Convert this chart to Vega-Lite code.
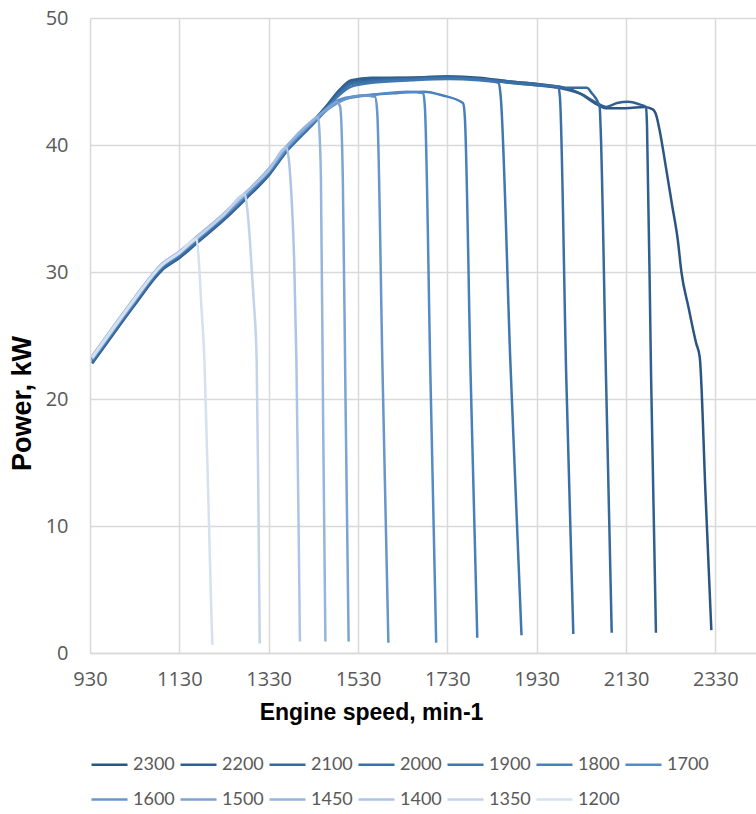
{
  "$schema": "https://vega.github.io/schema/vega-lite/v6.json",
  "width": 666,
  "height": 635,
  "autosize": {"type": "none"},
  "padding": {"left": 90, "top": 18, "right": 0, "bottom": 161},
  "background": "white",
  "config": {
    "view": {"stroke": null},
    "axis": {"gridColor": "#D9D9D9", "gridWidth": 1.5, "ticks": false, "labelColor": "#595959", "labelFont": "Open Sans", "labelFontSize": 20, "titleFont": "Liberation Sans", "titleFontWeight": "bold", "titleColor": "#000000", "format": "d"}
  },
  "data": {"values": [
    {"series":"2300","speed":935,"power":22.8},{"series":"2300","speed":980,"power":25.0},{"series":"2300","speed":1030,"power":27.4},{"series":"2300","speed":1090,"power":30.1},{"series":"2300","speed":1130,"power":31.1},{"series":"2300","speed":1170,"power":32.3},{"series":"2300","speed":1230,"power":34.1},{"series":"2300","speed":1280,"power":35.8},{"series":"2300","speed":1330,"power":37.6},{"series":"2300","speed":1370,"power":39.5},{"series":"2300","speed":1420,"power":41.4},{"series":"2300","speed":1460,"power":43.0},{"series":"2300","speed":1490,"power":44.3},{"series":"2300","speed":1515,"power":45.0},{"series":"2300","speed":1560,"power":45.2},{"series":"2300","speed":1650,"power":45.3},{"series":"2300","speed":1730,"power":45.4},{"series":"2300","speed":1800,"power":45.3},{"series":"2300","speed":1870,"power":45.0},{"series":"2300","speed":1930,"power":44.8},{"series":"2300","speed":1980,"power":44.6},{"series":"2300","speed":2030,"power":44.0},{"series":"2300","speed":2060,"power":43.3},{"series":"2300","speed":2085,"power":42.9},{"series":"2300","speed":2130,"power":42.9},{"series":"2300","speed":2171,"power":43.0},{"series":"2300","speed":2190,"power":42.8},{"series":"2300","speed":2198,"power":42.3},{"series":"2300","speed":2205,"power":41.2},{"series":"2300","speed":2220,"power":38.1},{"series":"2300","speed":2233,"power":35.3},{"series":"2300","speed":2246,"power":32.5},{"series":"2300","speed":2254,"power":30.0},{"series":"2300","speed":2270,"power":27.2},{"series":"2300","speed":2287,"power":24.4},{"series":"2300","speed":2295,"power":23.3},{"series":"2300","speed":2308,"power":12.5},{"series":"2300","speed":2321,"power":1.8},

    {"series":"2200","speed":935,"power":23.0},{"series":"2200","speed":980,"power":25.2},{"series":"2200","speed":1030,"power":27.5},{"series":"2200","speed":1090,"power":30.2},{"series":"2200","speed":1130,"power":31.3},{"series":"2200","speed":1170,"power":32.4},{"series":"2200","speed":1230,"power":34.2},{"series":"2200","speed":1280,"power":35.9},{"series":"2200","speed":1330,"power":37.7},{"series":"2200","speed":1370,"power":39.6},{"series":"2200","speed":1420,"power":41.5},{"series":"2200","speed":1460,"power":43.1},{"series":"2200","speed":1490,"power":44.4},{"series":"2200","speed":1515,"power":45.1},{"series":"2200","speed":1560,"power":45.3},{"series":"2200","speed":1650,"power":45.3},{"series":"2200","speed":1730,"power":45.4},{"series":"2200","speed":1800,"power":45.2},{"series":"2200","speed":1870,"power":44.9},{"series":"2200","speed":1930,"power":44.7},{"series":"2200","speed":1980,"power":44.5},{"series":"2200","speed":2030,"power":44.0},{"series":"2200","speed":2060,"power":43.4},{"series":"2200","speed":2085,"power":43.0},{"series":"2200","speed":2110,"power":43.3},{"series":"2200","speed":2135,"power":43.4},{"series":"2200","speed":2160,"power":43.2},{"series":"2200","speed":2175,"power":43.0},{"series":"2200","speed":2177,"power":41.5},{"series":"2200","speed":2186,"power":22.0},{"series":"2200","speed":2197,"power":1.6},

    {"series":"2100","speed":935,"power":23.1},{"series":"2100","speed":980,"power":25.3},{"series":"2100","speed":1030,"power":27.6},{"series":"2100","speed":1090,"power":30.3},{"series":"2100","speed":1130,"power":31.3},{"series":"2100","speed":1170,"power":32.5},{"series":"2100","speed":1230,"power":34.3},{"series":"2100","speed":1280,"power":36.0},{"series":"2100","speed":1330,"power":37.8},{"series":"2100","speed":1370,"power":39.6},{"series":"2100","speed":1420,"power":41.4},{"series":"2100","speed":1460,"power":42.9},{"series":"2100","speed":1490,"power":44.2},{"series":"2100","speed":1515,"power":44.9},{"series":"2100","speed":1560,"power":45.1},{"series":"2100","speed":1650,"power":45.2},{"series":"2100","speed":1730,"power":45.3},{"series":"2100","speed":1800,"power":45.2},{"series":"2100","speed":1870,"power":45.0},{"series":"2100","speed":1930,"power":44.8},{"series":"2100","speed":1997,"power":44.5},{"series":"2100","speed":2042,"power":44.5},{"series":"2100","speed":2053,"power":44.1},{"series":"2100","speed":2071,"power":43.0},{"series":"2100","speed":2073,"power":41.5},{"series":"2100","speed":2085,"power":22.0},{"series":"2100","speed":2098,"power":1.6},

    {"series":"2000","speed":935,"power":22.9},{"series":"2000","speed":980,"power":25.1},{"series":"2000","speed":1030,"power":27.5},{"series":"2000","speed":1090,"power":30.2},{"series":"2000","speed":1130,"power":31.2},{"series":"2000","speed":1170,"power":32.4},{"series":"2000","speed":1230,"power":34.2},{"series":"2000","speed":1280,"power":35.9},{"series":"2000","speed":1330,"power":37.7},{"series":"2000","speed":1370,"power":39.5},{"series":"2000","speed":1420,"power":41.3},{"series":"2000","speed":1460,"power":42.8},{"series":"2000","speed":1490,"power":44.1},{"series":"2000","speed":1515,"power":44.8},{"series":"2000","speed":1560,"power":45.0},{"series":"2000","speed":1650,"power":45.2},{"series":"2000","speed":1730,"power":45.3},{"series":"2000","speed":1800,"power":45.2},{"series":"2000","speed":1870,"power":44.9},{"series":"2000","speed":1930,"power":44.7},{"series":"2000","speed":1978,"power":44.6},{"series":"2000","speed":1982,"power":43.8},{"series":"2000","speed":1996,"power":22.0},{"series":"2000","speed":2012,"power":1.5},

    {"series":"1900","speed":935,"power":23.1},{"series":"1900","speed":980,"power":25.3},{"series":"1900","speed":1030,"power":27.7},{"series":"1900","speed":1090,"power":30.4},{"series":"1900","speed":1130,"power":31.4},{"series":"1900","speed":1170,"power":32.6},{"series":"1900","speed":1230,"power":34.4},{"series":"1900","speed":1280,"power":36.1},{"series":"1900","speed":1330,"power":37.9},{"series":"1900","speed":1370,"power":39.7},{"series":"1900","speed":1420,"power":41.5},{"series":"1900","speed":1460,"power":42.9},{"series":"1900","speed":1490,"power":44.0},{"series":"1900","speed":1515,"power":44.6},{"series":"1900","speed":1560,"power":44.9},{"series":"1900","speed":1650,"power":45.1},{"series":"1900","speed":1730,"power":45.2},{"series":"1900","speed":1800,"power":45.1},{"series":"1900","speed":1845,"power":44.9},{"series":"1900","speed":1849,"power":44.0},{"series":"1900","speed":1871,"power":23.0},{"series":"1900","speed":1896,"power":1.4},

    {"series":"1800","speed":935,"power":23.2},{"series":"1800","speed":980,"power":25.4},{"series":"1800","speed":1030,"power":27.8},{"series":"1800","speed":1090,"power":30.5},{"series":"1800","speed":1130,"power":31.5},{"series":"1800","speed":1170,"power":32.7},{"series":"1800","speed":1230,"power":34.5},{"series":"1800","speed":1280,"power":36.2},{"series":"1800","speed":1330,"power":38.0},{"series":"1800","speed":1370,"power":39.8},{"series":"1800","speed":1420,"power":41.5},{"series":"1800","speed":1445,"power":42.3},{"series":"1800","speed":1470,"power":43.1},{"series":"1800","speed":1500,"power":43.6},{"series":"1800","speed":1550,"power":43.9},{"series":"1800","speed":1620,"power":44.1},{"series":"1800","speed":1678,"power":44.2},{"series":"1800","speed":1720,"power":43.9},{"series":"1800","speed":1765,"power":43.3},{"series":"1800","speed":1769,"power":42.3},{"series":"1800","speed":1782,"power":22.0},{"series":"1800","speed":1797,"power":1.2},

    {"series":"1700","speed":935,"power":23.2},{"series":"1700","speed":980,"power":25.4},{"series":"1700","speed":1030,"power":27.8},{"series":"1700","speed":1090,"power":30.5},{"series":"1700","speed":1130,"power":31.5},{"series":"1700","speed":1170,"power":32.7},{"series":"1700","speed":1230,"power":34.5},{"series":"1700","speed":1280,"power":36.2},{"series":"1700","speed":1330,"power":38.0},{"series":"1700","speed":1370,"power":39.8},{"series":"1700","speed":1420,"power":41.6},{"series":"1700","speed":1445,"power":42.4},{"series":"1700","speed":1470,"power":43.2},{"series":"1700","speed":1500,"power":43.7},{"series":"1700","speed":1572,"power":44.0},{"series":"1700","speed":1640,"power":44.2},{"series":"1700","speed":1676,"power":44.1},{"series":"1700","speed":1680,"power":42.8},{"series":"1700","speed":1692,"power":22.0},{"series":"1700","speed":1705,"power":0.8},

    {"series":"1600","speed":935,"power":23.1},{"series":"1600","speed":980,"power":25.3},{"series":"1600","speed":1030,"power":27.7},{"series":"1600","speed":1090,"power":30.4},{"series":"1600","speed":1130,"power":31.4},{"series":"1600","speed":1170,"power":32.6},{"series":"1600","speed":1230,"power":34.4},{"series":"1600","speed":1280,"power":36.1},{"series":"1600","speed":1330,"power":37.9},{"series":"1600","speed":1370,"power":39.7},{"series":"1600","speed":1420,"power":41.5},{"series":"1600","speed":1445,"power":42.3},{"series":"1600","speed":1470,"power":43.0},{"series":"1600","speed":1500,"power":43.6},{"series":"1600","speed":1540,"power":43.9},{"series":"1600","speed":1568,"power":43.8},{"series":"1600","speed":1573,"power":42.6},{"series":"1600","speed":1585,"power":22.0},{"series":"1600","speed":1598,"power":0.8},

    {"series":"1500","speed":935,"power":23.3},{"series":"1500","speed":980,"power":25.5},{"series":"1500","speed":1030,"power":27.9},{"series":"1500","speed":1090,"power":30.6},{"series":"1500","speed":1130,"power":31.6},{"series":"1500","speed":1170,"power":32.8},{"series":"1500","speed":1230,"power":34.6},{"series":"1500","speed":1280,"power":36.3},{"series":"1500","speed":1330,"power":38.1},{"series":"1500","speed":1370,"power":39.9},{"series":"1500","speed":1420,"power":41.6},{"series":"1500","speed":1445,"power":42.4},{"series":"1500","speed":1470,"power":43.1},{"series":"1500","speed":1482,"power":43.4},{"series":"1500","speed":1490,"power":43.0},{"series":"1500","speed":1496,"power":37.3},{"series":"1500","speed":1502,"power":20.0},{"series":"1500","speed":1509,"power":0.9},

    {"series":"1450","speed":935,"power":23.4},{"series":"1450","speed":980,"power":25.6},{"series":"1450","speed":1030,"power":28.0},{"series":"1450","speed":1090,"power":30.6},{"series":"1450","speed":1130,"power":31.6},{"series":"1450","speed":1170,"power":32.8},{"series":"1450","speed":1230,"power":34.6},{"series":"1450","speed":1280,"power":36.3},{"series":"1450","speed":1330,"power":38.1},{"series":"1450","speed":1370,"power":39.9},{"series":"1450","speed":1420,"power":41.7},{"series":"1450","speed":1441,"power":42.2},{"series":"1450","speed":1444,"power":40.8},{"series":"1450","speed":1447,"power":37.3},{"series":"1450","speed":1452,"power":18.0},{"series":"1450","speed":1457,"power":0.9},

    {"series":"1400","speed":935,"power":23.3},{"series":"1400","speed":980,"power":25.5},{"series":"1400","speed":1030,"power":27.9},{"series":"1400","speed":1090,"power":30.6},{"series":"1400","speed":1130,"power":31.6},{"series":"1400","speed":1170,"power":32.8},{"series":"1400","speed":1230,"power":34.6},{"series":"1400","speed":1280,"power":36.3},{"series":"1400","speed":1330,"power":38.0},{"series":"1400","speed":1370,"power":39.8},{"series":"1400","speed":1375,"power":38.9},{"series":"1400","speed":1381,"power":36.0},{"series":"1400","speed":1387,"power":31.0},{"series":"1400","speed":1392,"power":23.2},{"series":"1400","speed":1397,"power":10.0},{"series":"1400","speed":1400,"power":0.9},

    {"series":"1350","speed":935,"power":23.2},{"series":"1350","speed":980,"power":25.4},{"series":"1350","speed":1030,"power":27.8},{"series":"1350","speed":1090,"power":30.5},{"series":"1350","speed":1130,"power":31.5},{"series":"1350","speed":1170,"power":32.7},{"series":"1350","speed":1230,"power":34.5},{"series":"1350","speed":1277,"power":36.1},{"series":"1350","speed":1282,"power":35.0},{"series":"1350","speed":1288,"power":32.5},{"series":"1350","speed":1296,"power":28.0},{"series":"1350","speed":1303,"power":23.2},{"series":"1350","speed":1307,"power":12.0},{"series":"1350","speed":1310,"power":0.75},

    {"series":"1200","speed":935,"power":23.3},{"series":"1200","speed":980,"power":25.5},{"series":"1200","speed":1030,"power":27.9},{"series":"1200","speed":1090,"power":30.5},{"series":"1200","speed":1130,"power":31.5},{"series":"1200","speed":1169,"power":32.6},{"series":"1200","speed":1173,"power":31.2},{"series":"1200","speed":1179,"power":27.5},{"series":"1200","speed":1186,"power":23.2},{"series":"1200","speed":1195,"power":12.0},{"series":"1200","speed":1201,"power":4.0},{"series":"1200","speed":1204,"power":0.65}
  ]},
  "mark": {"type": "line", "strokeWidth": 2.5, "interpolate": "monotone", "clip": true},
  "encoding": {
    "x": {"field": "speed", "type": "quantitative",
      "scale": {"domain": [930, 2421], "nice": false, "zero": false},
      "axis": {"values": [930, 1130, 1330, 1530, 1730, 1930, 2130, 2330], "title": "Engine speed, min-1", "titleFontSize": 23, "titleX": 281, "titleY": 59, "titleAnchor": "middle", "titleBaseline": "middle", "labelPadding": 16, "domainColor": "#D9D9D9", "domainWidth": 1.5, "labelFlush": false}},
    "y": {"field": "power", "type": "quantitative",
      "scale": {"domain": [0, 50], "nice": false},
      "axis": {"values": [0, 10, 20, 30, 40, 50], "title": "Power, kW", "titleFontSize": 27, "titleX": -68, "titleY": 385, "titleAnchor": "middle", "titleBaseline": "middle", "labelPadding": 22, "domain": false}},
    "color": {"field": "series", "type": "nominal",
      "scale": {"domain": ["2300","2200","2100","2000","1900","1800","1700","1600","1500","1450","1400","1350","1200"],
        "range": ["#2B5583","#30608F","#36699C","#3B70A7","#4177B1","#4880BD","#548BC6","#6795CC","#7CA3D3","#95B5DC","#ADC5E4","#C2D3EB","#D6E1F0"]},
      "legend": {"orient": "none", "legendX": 0, "legendY": 727, "direction": "horizontal", "columns": 7, "title": null, "symbolType": "stroke", "symbolSize": 1296, "symbolStrokeWidth": 2.5, "labelFont": "Lato", "labelFontSize": 18, "labelColor": "#595959", "labelOffset": 4, "columnPadding": 0, "rowPadding": 6, "gridAlign": "all", "padding": 0}}
  }
}
